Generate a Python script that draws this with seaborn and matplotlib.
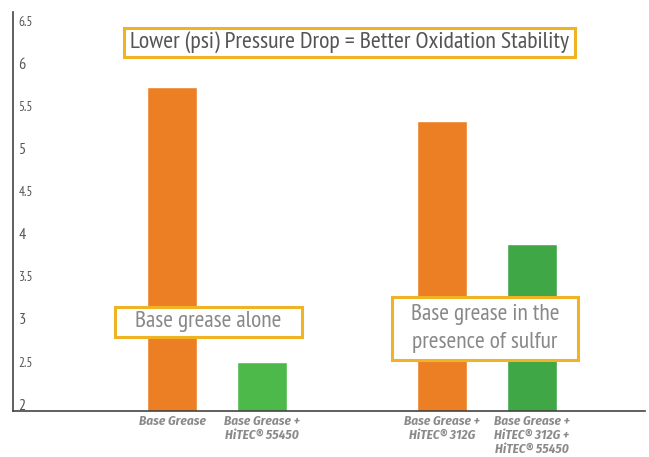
import matplotlib
matplotlib.use("Agg")
import matplotlib.pyplot as plt
import seaborn as sns
import pandas as pd
from matplotlib.patches import Rectangle

categories = ["Base Grease", "Base Grease +\nHiTEC\u00ae 55450", "Base Grease +\nHiTEC\u00ae 312G",
              "Base Grease +\nHiTEC\u00ae 312G +\nHiTEC\u00ae 55450"]
values = [5.72, 2.50, 5.32, 3.88]
colors = ["#EC7F24", "#4DB94A", "#EC7F24", "#3FA745"]
yticks = [2, 2.5, 3, 3.5, 4, 4.5, 5, 5.5, 6, 6.5]
title = "Lower (psi) Pressure Drop = Better Oxidation Stability"
note1 = "Base grease alone"
note2 = "Base grease in the\npresence of sulfur"

sns.set_theme(style="white")
plt.rcParams["font.family"] = ["PT Sans Narrow", "DejaVu Sans"]
XFONT = ["Fira Sans Condensed", "DejaVu Sans"]

spacer = " "
order = [categories[0], categories[1], spacer, categories[2], categories[3]]
df = pd.DataFrame({"cat": categories, "val": values})

W, H = 649, 457
fig = plt.figure(figsize=(W / 100, H / 100), dpi=100)
ax = fig.add_axes([13 / W, 1 - 411 / H, (645 - 13) / W, (411 - 12) / H])
sns.barplot(data=df, x="cat", y="val", order=order, hue="cat", hue_order=categories,
            palette=colors, width=0.56, legend=False, ax=ax, saturation=1)
ax.set_xlim(-1.77, 5.26)
ax.set_ylim(1.92, 6.6)
ax.set_yticks(yticks)
ax.set_yticklabels([f"{t:g}" for t in yticks])
ax.set_xlabel("")
ax.set_ylabel("")
ax.tick_params(axis="y", length=0, pad=-4, labelcolor="#555555")
for t, lab in zip(yticks, ax.get_yticklabels()):
    lab.set_ha("left")
    lab.set_fontsize(11.5 if float(t).is_integer() else 9.5)
ax.tick_params(axis="x", length=0, pad=3, labelcolor="#8A8A8A")
for lab in ax.get_xticklabels():
    lab.set_fontfamily(XFONT)
    lab.set_fontsize(9.5)
    lab.set_fontweight("bold")
    lab.set_fontstyle("italic")
    lab.set_linespacing(1.15)
for s in ["top", "right"]:
    ax.spines[s].set_visible(False)
for s in ["left", "bottom"]:
    ax.spines[s].set_color("#444444")
    ax.spines[s].set_linewidth(1.2)


def box(x0, y0, x1, y1, text, size, color, ls=1.2):
    fig.patches.append(Rectangle((x0 / W, 1 - y1 / H), (x1 - x0) / W, (y1 - y0) / H,
                                 transform=fig.transFigure, fill=True, facecolor="white",
                                 edgecolor="#F0B323", linewidth=2.2, zorder=5))
    fig.text((x0 + x1) / 2 / W, 1 - (y0 + y1) / 2 / H, text, ha="center", va="center",
             fontsize=size, color=color, zorder=6, linespacing=ls)


box(124, 28, 575, 57, title, 17.2, "#555555")
box(115, 307, 302, 337, note1, 16.8, "#888888")
box(392, 297, 578, 360, note2, 16.8, "#888888", ls=1.4)

fig.savefig("out.png", dpi=100)
